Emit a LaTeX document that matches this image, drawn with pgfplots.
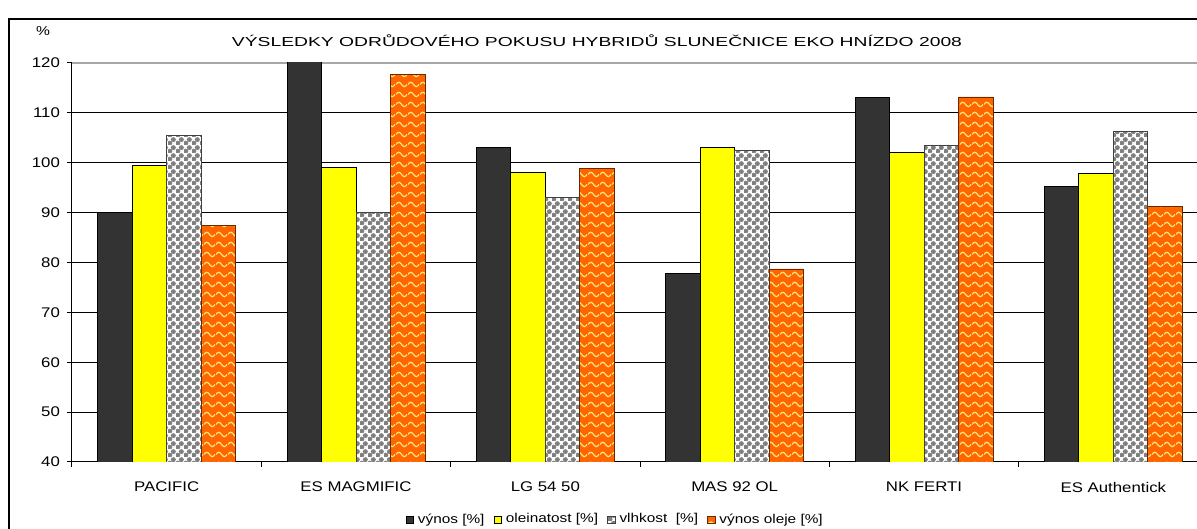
\documentclass[border=0pt]{standalone}
\usepackage{pgfplots}
\pgfplotsset{compat=1.18}
\usepackage{fontspec}
\setmainfont{Liberation Sans}
\usepackage{graphicx}
\usetikzlibrary{patterns.meta}

\definecolor{vynos}{HTML}{333333}
\definecolor{olein}{HTML}{FFFF00}
\definecolor{vlhk}{HTML}{7F7F7F}
\definecolor{olej}{HTML}{FF6600}
\definecolor{olejwave}{HTML}{FFE680}

% grey "spheres" on white
\tikzdeclarepattern{
  name=sphere, type=uncolored,
  bounding box={(0,0) and (4pt,4pt)}, tile size={(4pt,4pt)},
  code={\fill (1pt,1pt) circle (1.4pt); \fill (3pt,3pt) circle (1.4pt);}
}
% wavy lines for the oil yield
\tikzdeclarepattern{
  name=wave, type=uncolored,
  bounding box={(0,0) and (6pt,5pt)}, tile size={(6pt,5pt)},
  code={\draw[line width=0.65pt] (0,2.5pt) sin (1.5pt,3.7pt) cos (3pt,2.5pt) sin (4.5pt,1.3pt) cos (6pt,2.5pt);}
}

\newcommand{\sx}[1]{\scalebox{1.2}[1]{#1}}

\begin{document}
\begin{tikzpicture}
\useasboundingbox (-36pt,-33.5pt) rectangle (562.5pt,231pt);
\draw[line width=0.6pt] (-31.5pt,-60pt) -- (-31.5pt,221.5pt) -- (600pt,221.5pt);
\node[font=\fontsize{6.5pt}{7pt}\selectfont] at (-14.5pt,215.5pt) {\sx{\%}};
\node[font=\fontsize{6.5pt}{7pt}\selectfont] at (262.5pt,210.5pt)
  {\resizebox{365pt}{\height}{VÝSLEDKY ODRŮDOVÉHO POKUSU HYBRIDŮ SLUNEČNICE EKO HNÍZDO 2008}};

\begin{axis}[
  at={(0pt,0pt)}, anchor=south west,
  scale only axis, width=568pt, height=199.5pt,
  xmin=-0.5, xmax=5.5, ymin=40, ymax=120,
  axis lines=left,
  every outer x axis line/.append style={-},
  every outer y axis line/.append style={-},
  axis line style={black, line width=0.5pt},
  ybar=0pt, bar width=17.25pt,
  ytick={40,50,...,110},
  extra y ticks={120},
  extra y tick labels={\sx{120}},
  extra y tick style={grid style={gray!70, line width=0.7pt}},
  ymajorgrids, grid style={black, line width=0.5pt},
  tick align=outside, major tick length=2.5pt,
  tick style={black, line width=0.5pt},
  xtick={-0.5,0.5,...,5.5},
  xticklabels={\sx{PACIFIC},\sx{ES MAGMIFIC},\sx{LG 54 50},\sx{MAS 92 OL},\sx{NK FERTI},\sx{ES Authentick}},
  x tick label as interval,
  /pgf/number format/assume math mode=true,
  yticklabel={\sx{\pgfmathprintnumber{\tick}}},
  ticklabel style={font=\fontsize{7pt}{8pt}\selectfont},
  xticklabel style={yshift=-4pt},
  legend style={at={(0.479,-0.145)}, anchor=center, draw=none, fill=none,
    legend columns=4, font=\fontsize{6.4pt}{7pt}\selectfont,
    /tikz/every even column/.append style={column sep=2.5pt}},
  every axis plot post/.append style={
    legend image code/.code={\draw[##1, line width=0.4pt] (0pt,-1.9pt) rectangle (3.8pt,1.9pt);}},
]
\addplot[fill=vynos, draw=black, line width=0.4pt]
  coordinates {(0,90) (1,120.3) (2,103) (3,77.8) (4,113.1) (5,95.2)};
\addplot[fill=olein, draw=black, line width=0.4pt]
  coordinates {(0,99.4) (1,99.0) (2,98) (3,103) (4,102.1) (5,97.8)};
\addplot[preaction={fill=white}, pattern=sphere, pattern color=vlhk, draw=black!75, line width=0.4pt]
  coordinates {(0,105.5) (1,90) (2,93.1) (3,102.4) (4,103.4) (5,106.3)};
\addplot[preaction={fill=olej}, pattern=wave, pattern color=olejwave, draw=black!60!olej, line width=0.4pt]
  coordinates {(0,87.5) (1,117.7) (2,98.8) (3,78.7) (4,113.2) (5,91.2)};
\legend{\sx{výnos [\%]},\sx{oleinatost [\%]},\sx{vlhkost\ \ [\%]},\sx{výnos oleje [\%]}}
\end{axis}
\end{tikzpicture}
\end{document}
